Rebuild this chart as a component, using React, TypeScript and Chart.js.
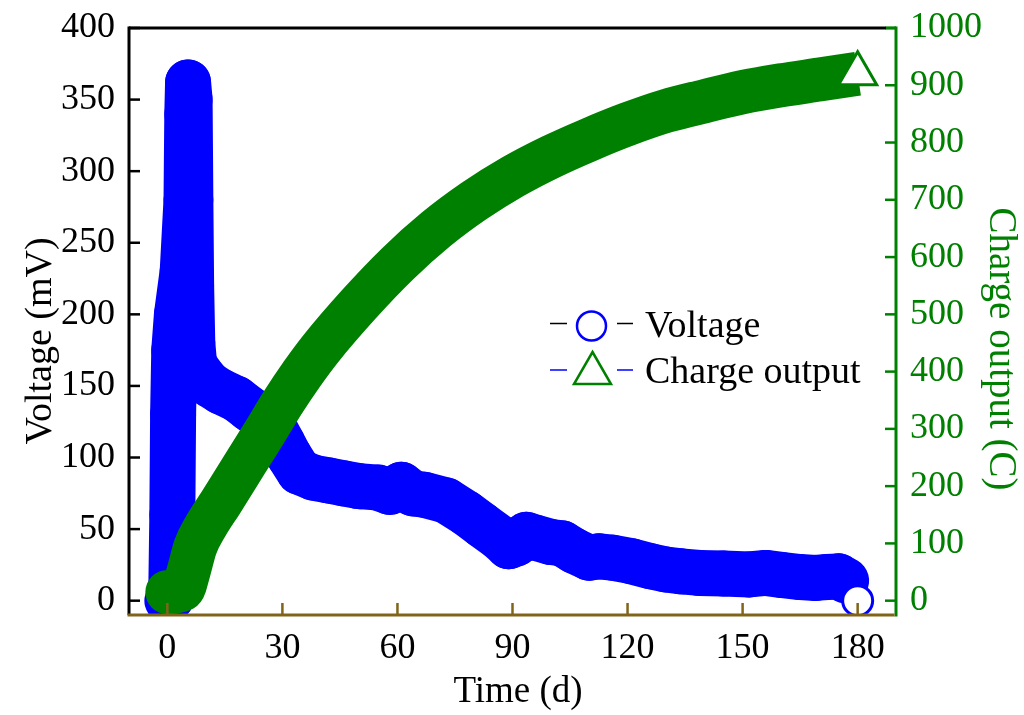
import React, { useEffect, useRef } from 'react';
import { Chart, registerables } from 'chart.js';

Chart.register(...registerables);

// ---- Data ----
const voltageTime = [0, 1, 1.3, 1.5, 1.8, 2.5, 4, 5, 5.2, 5.4, 5.8, 6, 6.2, 6.5, 7, 9, 11, 14, 18, 21.4, 24, 27.4, 30, 31.8, 34.4, 38, 42, 46, 50, 55, 58, 61, 64, 67, 72.7, 78, 82, 86.6, 89, 91, 93.6, 96, 100, 103, 106, 110, 112.6, 116, 121, 126, 130, 134, 138.7, 145, 151.8, 156, 160, 165, 169, 172, 175, 177, 180];
const voltage = [0, 2, 60, 130, 175, 200, 230, 280, 340, 362, 350, 280, 220, 180, 165, 157, 151, 146, 141, 134, 129, 123, 110, 101, 90, 86, 84, 82, 80, 79, 76, 81, 75, 74, 70, 61, 53, 44, 38, 40, 46, 44, 41, 40, 35, 30, 31, 30, 27.6, 24, 21.8, 20.5, 19.4, 19, 18.3, 19.4, 18, 16.5, 15.9, 16.5, 17, 14, 0];

const chargeTime = [0, 4, 5.5, 7.3, 10, 14, 18, 25, 30, 35, 40, 50, 60, 70, 80, 90, 100, 110, 120, 130, 140, 150, 160, 170, 180];
const charge = [15, 20, 50, 94, 130, 172, 215, 290, 345, 395, 440, 518, 588, 648, 698, 740, 775, 805, 832, 855, 872, 888, 900, 910, 920];

const xTicks = [0, 30, 60, 90, 120, 150, 180];
const voltageTicks = [0, 50, 100, 150, 200, 250, 300, 350, 400];
const chargeTicks = [0, 100, 200, 300, 400, 500, 600, 700, 800, 900, 1000];

const xTitle = 'Time (d)';
const voltageTitle = 'Voltage (mV)';
const chargeTitle = 'Charge output (C)';
const legendLabels = ['Voltage', 'Charge output'];

const BLUE = '#0000ff';
const GREEN = '#008000';
const OLIVE = '#806419';
const FONT = "'Liberation Serif', 'Times New Roman', serif";
const BLUE_BAND = 46;
const GREEN_BAND = 44;

const bandPlugin = {
  id: 'band',
  beforeDatasetDraw(chart: any, args: any) {
    const { ctx, chartArea } = chart;
    const pts = args.meta.data;
    const n = pts.length;
    ctx.save();
    ctx.beginPath();
    ctx.rect(chartArea.left - 40, chartArea.top - 40, chartArea.right - chartArea.left + 80, chartArea.bottom - chartArea.top + 40);
    ctx.clip();
    if (args.index === 0) {
      // voltage band: each segment stroked on its own; the last point is the open marker
      ctx.strokeStyle = BLUE;
      ctx.lineWidth = BLUE_BAND;
      ctx.lineCap = 'round';
      for (let i = 0; i < n - 2; i++) {
        ctx.beginPath();
        ctx.moveTo(pts[i].x, pts[i].y);
        ctx.lineTo(pts[i + 1].x, pts[i + 1].y);
        ctx.stroke();
      }
    } else if (args.index === 1) {
      // rounded start of the charge band
      ctx.fillStyle = GREEN;
      ctx.beginPath();
      ctx.arc(pts[0].x, pts[0].y, GREEN_BAND / 2, 0, Math.PI * 2);
      ctx.fill();
    }
    ctx.restore();
    return true;
  },
};

const decorPlugin = {
  id: 'decor',
  afterDatasetsDraw(chart: any) {
    const { ctx, chartArea } = chart;
    const { left, right, top, bottom } = chartArea;
    const sx = chart.scales.x;
    const sy = chart.scales.y;
    const sy1 = chart.scales.y1;
    ctx.save();
    ctx.lineCap = 'butt';
    // tick marks (inward)
    ctx.lineWidth = 2.5;
    ctx.strokeStyle = '#000';
    voltageTicks.forEach((v) => {
      const y = sy.getPixelForValue(v);
      ctx.beginPath(); ctx.moveTo(left, y); ctx.lineTo(left + 11, y); ctx.stroke();
    });
    ctx.strokeStyle = OLIVE;
    xTicks.forEach((v) => {
      const x = sx.getPixelForValue(v);
      ctx.beginPath(); ctx.moveTo(x, bottom); ctx.lineTo(x, bottom - 12); ctx.stroke();
    });
    ctx.strokeStyle = GREEN;
    chargeTicks.forEach((v) => {
      const y = sy1.getPixelForValue(v);
      ctx.beginPath(); ctx.moveTo(right, y); ctx.lineTo(right - 11, y); ctx.stroke();
    });
    // frame
    ctx.lineWidth = 3;
    ctx.strokeStyle = '#000';
    ctx.beginPath(); ctx.moveTo(left, top); ctx.lineTo(right - 10, top); ctx.stroke();
    ctx.beginPath(); ctx.moveTo(left, top - 1.5); ctx.lineTo(left, bottom); ctx.stroke();
    ctx.strokeStyle = GREEN;
    ctx.beginPath(); ctx.moveTo(right - 10, top); ctx.lineTo(right, top); ctx.stroke();
    ctx.beginPath(); ctx.moveTo(right, top - 1.5); ctx.lineTo(right, bottom + 1.5); ctx.stroke();
    ctx.strokeStyle = OLIVE;
    ctx.beginPath(); ctx.moveTo(left - 1.5, bottom); ctx.lineTo(right - 1.5, bottom); ctx.stroke();

    // axis titles
    ctx.fillStyle = '#000';
    ctx.textBaseline = 'alphabetic';
    ctx.textAlign = 'center';
    ctx.font = `37px ${FONT}`;
    ctx.fillText(xTitle, 518, 702);
    ctx.save();
    ctx.translate(51, 341);
    ctx.rotate(-Math.PI / 2);
    ctx.font = `38px ${FONT}`;
    ctx.fillText(voltageTitle, 0, 0);
    ctx.restore();
    ctx.save();
    ctx.translate(990, 349);
    ctx.rotate(Math.PI / 2);
    ctx.fillStyle = GREEN;
    ctx.font = `39px ${FONT}`;
    ctx.fillText(chargeTitle, 0, 0);
    ctx.restore();

    // legend
    ctx.lineWidth = 1.5;
    ctx.strokeStyle = '#000';
    ctx.beginPath(); ctx.moveTo(550, 323.5); ctx.lineTo(567, 323.5); ctx.moveTo(617, 323.5); ctx.lineTo(633, 323.5); ctx.stroke();
    ctx.lineWidth = 2.5;
    ctx.strokeStyle = BLUE;
    ctx.beginPath(); ctx.arc(591.5, 326, 14.5, 0, Math.PI * 2); ctx.stroke();
    ctx.lineWidth = 1.5;
    ctx.beginPath(); ctx.moveTo(550, 370); ctx.lineTo(567, 370); ctx.moveTo(617, 370); ctx.lineTo(633, 370); ctx.stroke();
    ctx.lineWidth = 2.5;
    ctx.strokeStyle = GREEN;
    ctx.lineJoin = 'miter';
    ctx.beginPath(); ctx.moveTo(592.5, 352); ctx.lineTo(611, 384); ctx.lineTo(574, 384); ctx.closePath(); ctx.stroke();
    ctx.fillStyle = '#000';
    ctx.textAlign = 'left';
    ctx.font = `38px ${FONT}`;
    ctx.fillText(legendLabels[0], 645, 337);
    ctx.fillText(legendLabels[1], 645, 383);
    ctx.restore();
  },
};

export default function App() {
  const ref = useRef<HTMLCanvasElement | null>(null);
  useEffect(() => {
    if (!ref.current) return;
    const vData = voltageTime.map((t, i) => ({ x: t, y: voltage[i] }));
    const cData = chargeTime.map((t, i) => ({ x: t, y: charge[i] }));
    const vLast = vData.length - 1;
    const cLast = cData.length - 1;
    const tickFont = { family: FONT, size: 36 };
    const noPad = (s: any) => { s.paddingTop = 0; s.paddingBottom = 0; s.paddingLeft = 0; s.paddingRight = 0; };
    const chart = new Chart(ref.current, {
      type: 'line',
      data: {
        datasets: [
          {
            label: legendLabels[0],
            data: vData,
            yAxisID: 'y',
            order: 2,
            showLine: false,
            borderColor: BLUE,
            borderWidth: 0,
            fill: false,
            pointStyle: 'circle',
            pointRadius: (c: any) => (c.dataIndex === vLast ? 15 : 0),
            pointBorderWidth: 3,
            pointBorderColor: BLUE,
            pointBackgroundColor: '#ffffff',
            clip: { left: 40, right: 40, top: 40, bottom: 0 },
          },
          {
            label: legendLabels[1],
            data: cData,
            yAxisID: 'y1',
            order: 1,
            borderColor: GREEN,
            borderWidth: GREEN_BAND,
            borderJoinStyle: 'round',
            borderCapStyle: 'butt',
            cubicInterpolationMode: 'monotone',
            fill: false,
            pointStyle: 'triangle',
            pointRadius: (c: any) => (c.dataIndex === cLast ? 22 : 0),
            pointBorderWidth: 3,
            pointBorderColor: GREEN,
            pointBackgroundColor: '#ffffff',
            clip: { left: 40, right: 40, top: 40, bottom: 0 },
          },
        ] as any,
      },
      options: {
        responsive: false,
        animation: false,
        events: [],
        layout: { padding: { top: 28, left: 0, right: 0, bottom: 0 } },
        plugins: { legend: { display: false }, tooltip: { enabled: false } },
        scales: {
          x: {
            type: 'linear',
            position: 'bottom',
            min: -10,
            max: 190,
            grid: { display: false, drawTicks: false },
            border: { display: false },
            ticks: { color: '#000', font: tickFont, padding: 12, autoSkip: false, maxRotation: 0, callback: (v: any) => String(v) },
            afterBuildTicks: (s: any) => { s.ticks = xTicks.map((v) => ({ value: v })); },
            afterFit: (s: any) => { s.height = 100; noPad(s); },
          },
          y: {
            type: 'linear',
            position: 'left',
            min: -10,
            max: 400,
            grid: { display: false, drawTicks: false },
            border: { display: false },
            ticks: { color: '#000', font: tickFont, padding: 14, autoSkip: false, callback: (v: any) => String(v) },
            afterBuildTicks: (s: any) => { s.ticks = voltageTicks.map((v) => ({ value: v })); },
            afterFit: (s: any) => { s.width = 129; noPad(s); },
          },
          y1: {
            type: 'linear',
            position: 'right',
            min: -25,
            max: 1000,
            grid: { display: false, drawTicks: false },
            border: { display: false },
            ticks: { color: GREEN, font: tickFont, padding: 14, autoSkip: false, callback: (v: any) => String(v) },
            afterBuildTicks: (s: any) => { s.ticks = chargeTicks.map((v) => ({ value: v })); },
            afterFit: (s: any) => { s.width = 128; noPad(s); },
          },
        },
      } as any,
      plugins: [bandPlugin, decorPlugin],
    });
    return () => chart.destroy();
  }, []);
  return (
    <div style={{ position: 'fixed', left: 0, top: 0, width: 1024, height: 715, background: '#fff' }}>
      <canvas ref={ref} width={1024} height={715} style={{ display: 'block' }} />
    </div>
  );
}
